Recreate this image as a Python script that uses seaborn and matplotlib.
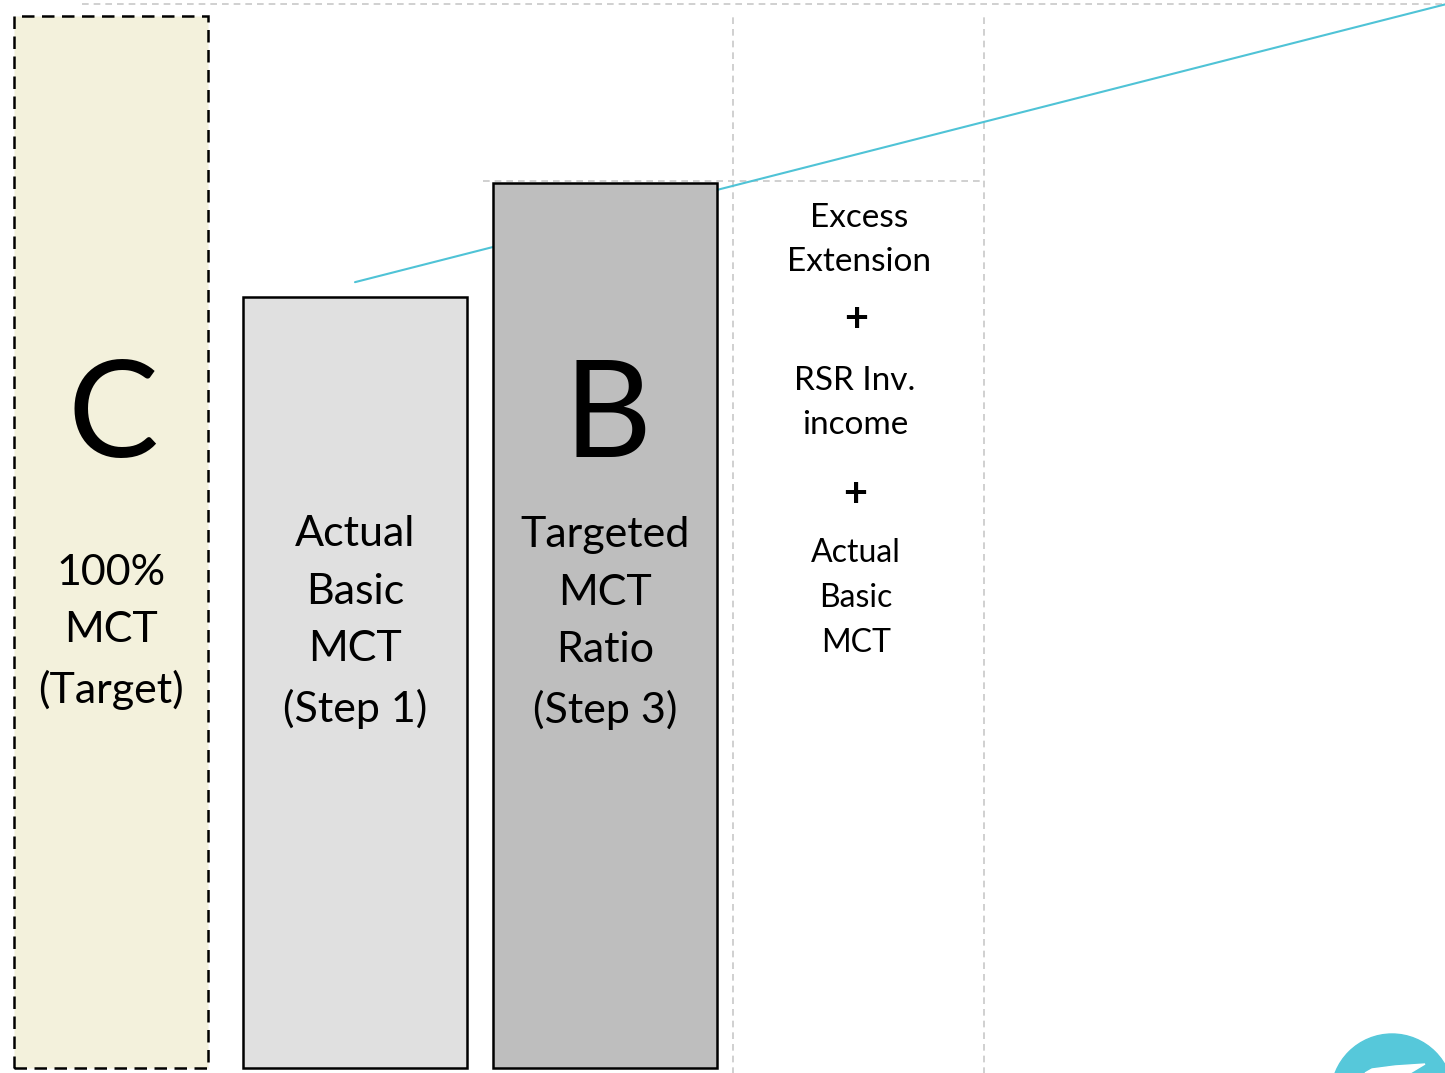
import matplotlib
matplotlib.use("Agg")
import matplotlib.pyplot as plt
from matplotlib.patches import Ellipse, Polygon
import seaborn as sns

# Bar heights in percent of the 100% MCT target
bar_labels = ["100%\nMCT\n(Target)", "Actual\nBasic\nMCT\n(Step 1)", "Targeted\nMCT\nRatio\n(Step 3)"]
bar_letters = ["C", "", "B"]
bar_values = [100.0, 73.3, 84.1]

# Trend connector (x in px, y in percent)
trend_x = [355, 1445]
trend_y = [74.7, 101.1]

# Reference guide levels (percent)
guide_top = 101.1
guide_target = 84.3

sns.set_theme(style="white")
plt.rcParams["font.family"] = ["Lato", "DejaVu Sans"]

W, H = 1445, 1073
fig = plt.figure(figsize=(W / 100, H / 100), dpi=100)
ax = fig.add_axes([0, 0, 1, 1])
ax.set_xlim(0, W)
px_per_unit = 10.52
base_px = 1068
ax.set_ylim(-(H - base_px) / px_per_unit, base_px / px_per_unit)
ax.axis("off")

grey = "#c8c8c8"
# dashed guide lines
ax.plot([82, W], [guide_top, guide_top], ls=(0, (4, 3)), color=grey, lw=1.2, zorder=1)
ax.plot([483, 984], [guide_target, guide_target], ls=(0, (4, 3)), color=grey, lw=1.2, zorder=1)
for gx in (733, 984):
    ax.plot([gx, gx], [-1, 100.0], ls=(0, (4, 3)), color=grey, lw=1.2, zorder=1)

# cyan trend connector, passes behind the bars
ax.plot(trend_x, trend_y, color="#4fc3d6", lw=1.5, zorder=2)

# bars
lefts = [14, 243, 493]
widths = [194, 224, 224]
fills = ["#f3f1dc", "#e0e0e0", "#bebebe"]
styles = [(0, (5, 3)), "solid", "solid"]
for left, w, v, fc, st in zip(lefts, widths, bar_values, fills, styles):
    ax.bar(left, v, width=w, align="edge", color=fc, edgecolor="black",
           linewidth=1.8, linestyle=st, zorder=3)

def py(p):
    return (base_px - p) / px_per_unit

text_centers = [111, 355, 605]
text_mid = [632, 622, 623]
for cx, letter, lab, ty in zip(text_centers, bar_letters, bar_labels, text_mid):
    if letter:
        ax.text(cx + 2, py(457), letter, ha="center", va="baseline",
                fontsize=98, color="black", zorder=4)
    ax.text(cx, py(ty), lab, ha="center", va="center", fontsize=31,
            linespacing=1.62, color="black", zorder=4)

# components column
ax.text(859, py(240), "Excess\nExtension", ha="center", va="center",
        fontsize=24, linespacing=1.6, color="black")
ax.text(856, py(320), "+", ha="center", va="center", fontsize=30,
        fontweight="bold", color="black")
ax.text(855, py(403), "RSR Inv.\nincome", ha="center", va="center",
        fontsize=24, linespacing=1.62, color="black")
ax.text(855, py(495), "+", ha="center", va="center", fontsize=30,
        fontweight="bold", color="black")
ax.text(856, py(598), "Actual\nBasic\nMCT", ha="center", va="center",
        fontsize=23, linespacing=1.62, color="black")

# corner badge
ax.add_patch(Ellipse((1392, py(1095)), 122, 122 / px_per_unit,
                     color="#56c8da", zorder=5, clip_on=True))
ax.add_patch(Polygon([(1365, py(1073)), (1372, py(1069)), (1395, py(1066)),
                      (1425, py(1064)), (1410, py(1073))],
                     closed=True, color="white", zorder=6))

fig.savefig("out.png", dpi=100)
